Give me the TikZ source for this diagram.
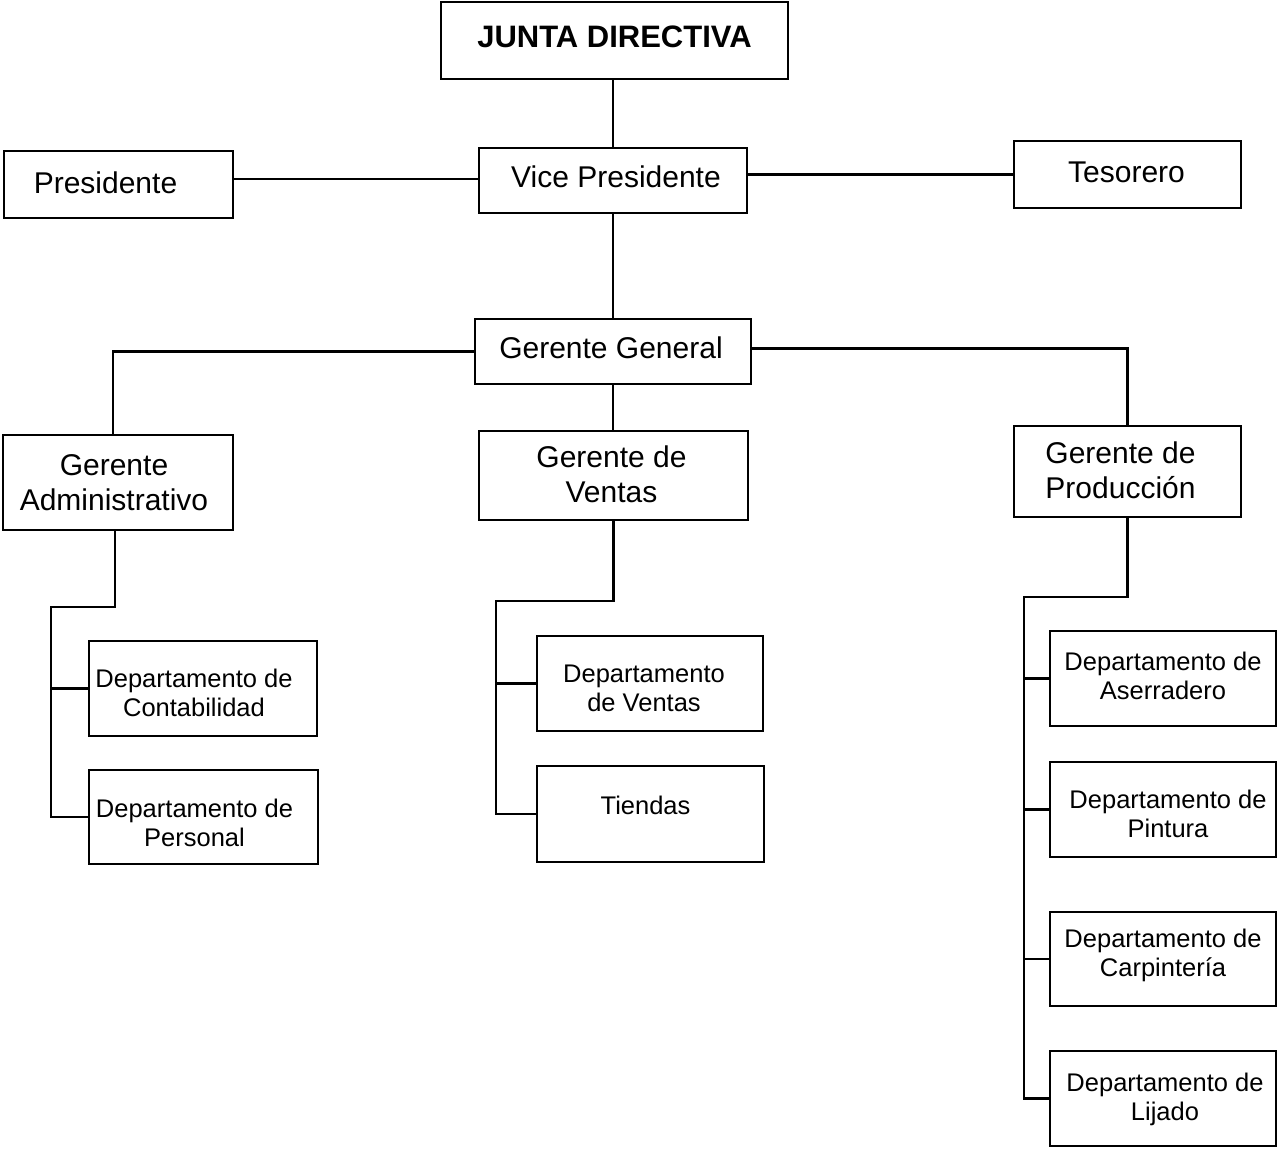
\documentclass[tikz,border=0pt]{standalone}
\usepackage{fontspec}
\setmainfont{Liberation Sans}
\begin{document}
\begin{tikzpicture}[x=1pt,y=-1pt,
  box/.style={draw=black,line width=2.6pt,rectangle,inner sep=0pt},
  big/.style={font=\fontsize{30}{35}\selectfont,align=center},
  small/.style={font=\fontsize{25.5}{29}\selectfont,align=center},
  link/.style={draw=black,line width=2.4pt}]
\useasboundingbox[fill=white] (0,0) rectangle (1278,1149);

% top level
\node[box,minimum width=347pt,minimum height=77pt,
  label={[big,font=\bfseries\fontsize{31}{35}\selectfont,yshift=4pt]center:JUNTA DIRECTIVA}] (junta) at (614.5,40.5) {};
\node[box,minimum width=229pt,minimum height=67pt,
  label={[big,xshift=-13pt,yshift=1.5pt]center:Presidente}] (pres) at (118.5,184.5) {};
\node[box,minimum width=268pt,minimum height=65pt,
  label={[big,xshift=3pt,yshift=4pt]center:Vice Presidente}] (vp) at (613,180.5) {};
\node[box,minimum width=227pt,minimum height=67pt,
  label={[big,xshift=-1pt,yshift=2.5pt]center:Tesorero}] (tes) at (1127.5,174.5) {};
\node[box,minimum width=276pt,minimum height=65pt,
  label={[big,xshift=-2pt,yshift=3.5pt]center:Gerente General}] (gg) at (613,351.5) {};

% managers
\node[box,minimum width=230pt,minimum height=95pt,
  label={[big,xshift=-4pt]center:Gerente\\Administrativo}] (ga) at (118,482.5) {};
\node[box,minimum width=269pt,minimum height=89pt,
  label={[big,xshift=-2pt,yshift=1pt]center:Gerente de\\Ventas}] (gv) at (613.5,475.5) {};
\node[box,minimum width=227pt,minimum height=91pt,
  label={[big,xshift=-7pt,yshift=1pt]center:Gerente de\\Producción}] (gp) at (1127.5,471.5) {};

% administration departments
\node[box,minimum width=228pt,minimum height=95pt,
  label={[small,xshift=-9pt,yshift=-4.5pt]center:Departamento de\\Contabilidad}] (cont) at (203,688.5) {};
\node[box,minimum width=229pt,minimum height=94pt,
  label={[small,xshift=-9pt,yshift=-6pt]center:Departamento de\\Personal}] (pers) at (203.5,817) {};

% sales departments
\node[box,minimum width=226pt,minimum height=95pt,
  label={[small,xshift=-6pt,yshift=-4.5pt]center:Departamento\\de Ventas}] (dven) at (650,683.5) {};
\node[box,minimum width=227pt,minimum height=96pt,
  label={[small,xshift=-5pt,yshift=9pt]center:Tiendas}] (tien) at (650.5,814) {};

% production departments
\node[box,minimum width=226pt,minimum height=95pt,
  label={[small,yshift=3pt]center:Departamento de\\Aserradero}] (aser) at (1163,678.5) {};
\node[box,minimum width=226pt,minimum height=95pt,
  label={[small,xshift=5pt,yshift=-4pt]center:Departamento de\\Pintura}] (pint) at (1163,809.5) {};
\node[box,minimum width=226pt,minimum height=94pt,
  label={[small,yshift=3.5pt]center:Departamento de\\Carpintería}] (carp) at (1163,959) {};
\node[box,minimum width=226pt,minimum height=95pt,
  label={[small,xshift=2pt,yshift=-1pt]center:Departamento de\\Lijado}] (lij) at (1163,1098.5) {};

% bus corners
\coordinate (abus) at (51,607);
\coordinate (vbus) at (496,601);
\coordinate (pbus) at (1024,597);

% upper connectors
\draw[link] (vp.north |- junta.south) -- (vp.north);
\draw[link] ([yshift=1.5pt]vp.west) -- ([yshift=1.5pt]vp.west -| pres.east);
\draw[link] (tes.west) -- (tes.west -| vp.east);
\draw[link] (vp.south) -- (gg.north);
\draw[link] (gg.west) -| ([xshift=-5pt]ga.north);
\draw[link] ([yshift=3pt]gg.east) -| (gp.north);
\draw[link] (gg.south) -- (gg.south |- gv.north);

% administration branch
\draw[link] ([xshift=-3pt]ga.south) |- (abus) |- (pers.west);
\draw[link] (abus |- cont.west) -- (cont.west);

% sales branch
\draw[link] (gv.south) |- (vbus) |- (tien.west);
\draw[link] (vbus |- dven.west) -- (dven.west);

% production branch
\draw[link] (gp.south) |- (pbus) |- (lij.west);
\draw[link] (pbus |- aser.west) -- (aser.west);
\draw[link] (pbus |- pint.west) -- (pint.west);
\draw[link] (pbus |- carp.west) -- (carp.west);
\end{tikzpicture}
\end{document}
